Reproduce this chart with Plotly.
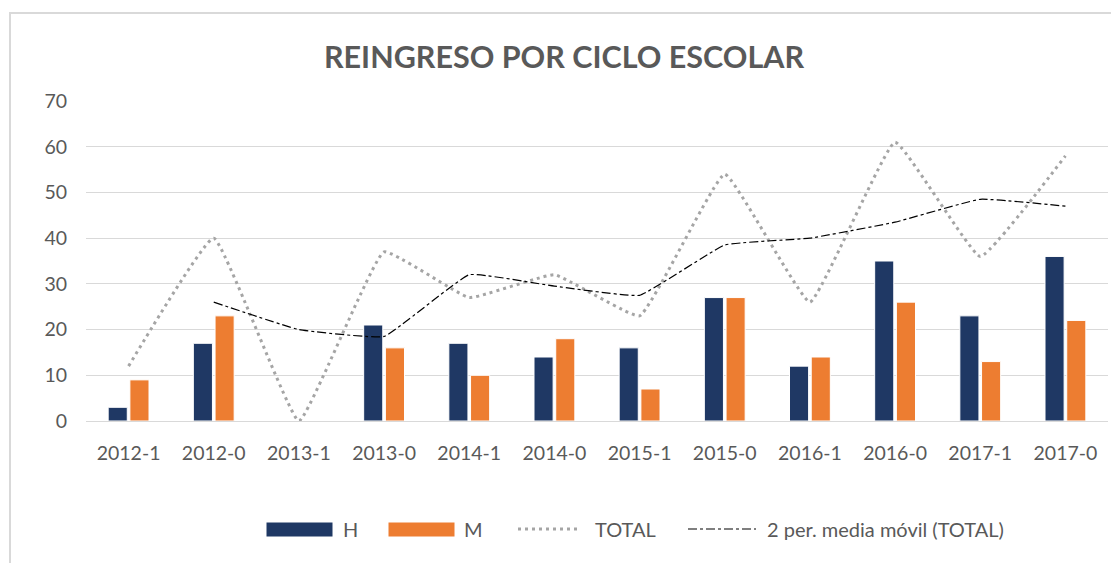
import plotly.graph_objects as go

categories = ["2012-1", "2012-0", "2013-1", "2013-0", "2014-1", "2014-0",
              "2015-1", "2015-0", "2016-1", "2016-0", "2017-1", "2017-0"]
h_values = [3, 17, 0, 21, 17, 14, 16, 27, 12, 35, 23, 36]
m_values = [9, 23, 0, 16, 10, 18, 7, 27, 14, 26, 13, 22]
total_values = [12, 40, 0, 37, 27, 32, 23, 54, 26, 61, 36, 58]
moving_avg = [None, 26, 20, 18.5, 32, 29.5, 27.5, 38.5, 40, 43.5, 48.5, 47]
y_ticks = [0, 10, 20, 30, 40, 50, 60, 70]

FONT = "Lato"
GREY = "#595959"
NAVY = "#1F3864"
ORANGE = "#ED7D31"
LGREY = "#A5A5A5"

# page body has an 8px margin; figure sized to fit the 1119x563 window
W, H = 1111, 555
ML, MR, MT, MB = 78, 11, 93, 142
PW, PH = W - ML - MR, H - MT - MB


def px(sx):
    return (sx - 8 - ML) / PW


def py(sy):
    return (H - MB - (sy - 8)) / PH


fig = go.Figure()
fig.add_trace(go.Bar(x=categories, y=h_values, name="H", showlegend=False,
                     marker=dict(color=NAVY, line=dict(color="white", width=1))))
fig.add_trace(go.Bar(x=categories, y=m_values, name="M", showlegend=False,
                     marker=dict(color=ORANGE, line=dict(color="white", width=1))))
fig.add_trace(go.Scatter(x=categories, y=total_values, name="TOTAL", mode="lines",
                         showlegend=False,
                         line=dict(color=LGREY, width=3, dash="3px,4px",
                                   shape="spline", smoothing=0.3)))
fig.add_trace(go.Scatter(x=categories, y=moving_avg, name="2 per. media móvil (TOTAL)",
                         mode="lines", connectgaps=False, showlegend=False,
                         line=dict(color="#000000", width=1.2, dash="dashdot",
                                   shape="spline", smoothing=0.3)))

# custom legend (screen pixel positions from reference)
ly = 529
shapes = [
    # chart frame
    dict(type="rect", xref="paper", yref="paper", layer="below",
         x0=px(10), x1=px(1140), y0=py(13), y1=py(600),
         line=dict(color="#D9D9D9", width=2)),
    dict(type="rect", xref="paper", yref="paper",
         x0=px(266), x1=px(333), y0=py(522), y1=py(537),
         fillcolor=NAVY, line=dict(color="white", width=1)),
    dict(type="rect", xref="paper", yref="paper",
         x0=px(388), x1=px(455), y0=py(522), y1=py(537),
         fillcolor=ORANGE, line=dict(color="white", width=1)),
    dict(type="line", xref="paper", yref="paper",
         x0=px(518), x1=px(580), y0=py(ly), y1=py(ly),
         line=dict(color=LGREY, width=3, dash="3px,4px")),
    dict(type="line", xref="paper", yref="paper",
         x0=px(688), x1=px(756), y0=py(ly), y1=py(ly),
         line=dict(color="#000000", width=1.2, dash="dashdot")),
]
legend_texts = [("H", 341), ("M", 462), ("TOTAL", 593), ("2 per. media móvil (TOTAL)", 765)]
annotations = [
    dict(text=t, x=px(x0), y=py(ly), xref="paper", yref="paper",
         xanchor="left", yanchor="middle", showarrow=False,
         font=dict(family=FONT, size=20, color=GREY))
    for t, x0 in legend_texts
]

fig.update_layout(
    width=W, height=H,
    paper_bgcolor="white", plot_bgcolor="white",
    margin=dict(l=ML, r=MR, t=MT, b=MB),
    title=dict(text="<b>REINGRESO POR CICLO ESCOLAR</b>", x=556 / W, xanchor="center",
               y=1 - (57 - 8) / H, yanchor="middle",
               font=dict(family=FONT, size=30.5, color=GREY)),
    barmode="group", bargap=0.49, bargroupgap=0.12,
    font=dict(family=FONT, size=19, color=GREY),
    showlegend=False,
    xaxis=dict(type="category", showgrid=False, showline=False, ticks="",
               ticklabelstandoff=18,
               tickfont=dict(family=FONT, size=19.5, color=GREY)),
    yaxis=dict(range=[0, 70], tickvals=y_ticks, showgrid=True, gridcolor="#D9D9D9",
               gridwidth=1, zeroline=True, zerolinecolor="#D9D9D9", zerolinewidth=1,
               ticks="", ticklabelstandoff=18,
               tickfont=dict(family=FONT, size=19.5, color=GREY)),
    shapes=shapes,
    annotations=annotations,
)

fig.write_html("out.html")
